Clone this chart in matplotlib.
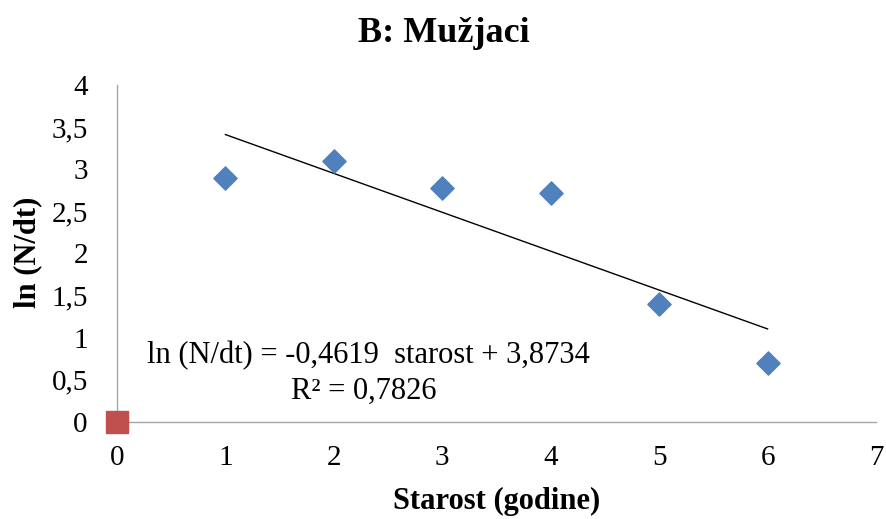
import matplotlib
matplotlib.use('Agg')
import matplotlib.pyplot as plt

# Data
starost = [1, 2, 3, 4, 5, 6]
ln_ndt = [2.89, 3.10, 2.78, 2.72, 1.40, 0.70]
origin_x = [0]
origin_y = [0]

slope = -0.4619
intercept = 3.8734
r2 = 0.7826

x_ticks = [0, 1, 2, 3, 4, 5, 6, 7]
y_ticks = [0, 0.5, 1, 1.5, 2, 2.5, 3, 3.5, 4]
y_tick_labels = ['0', '0,5', '1', '1,5', '2', '2,5', '3', '3,5', '4']

plt.rcParams['font.family'] = ['Liberation Serif', 'DejaVu Serif']

fig = plt.figure(figsize=(8.87, 5.19), dpi=100)
ax = fig.add_axes([0.1319, 0.1875, 0.8557, 0.6487])

trend_x = [starost[0], starost[-1]]
trend_y = [slope * x + intercept for x in trend_x]
ax.plot(trend_x, trend_y, color='black', linewidth=1.0, zorder=2)

ax.scatter(starost, ln_ndt, marker='D', s=140, color='#4F81BD', zorder=3)
ax.scatter(origin_x, origin_y, marker='s', s=240, color='#C0504D', zorder=4, clip_on=False)

ax.set_xlim(0, 7)
ax.set_ylim(0, 4)
ax.set_xticks(x_ticks)
ax.set_yticks(y_ticks)
ax.set_yticklabels(y_tick_labels)
ax.tick_params(length=0, labelsize=21)
ax.tick_params(axis='x', pad=17)
ax.tick_params(axis='y', pad=21)

for side in ['top', 'right']:
    ax.spines[side].set_visible(False)
for side in ['left', 'bottom']:
    ax.spines[side].set_color('#A6A6A6')
    ax.spines[side].set_linewidth(1.0)

# title and axis labels placed in figure coords, as in the reference
fig.text(0.5006, 0.919, 'B: Mužjaci', fontsize=26, fontweight='bold',
         ha='center', va='baseline')
fig.text(0.5603, 0.033, 'Starost (godine)', fontsize=22, fontweight='bold',
         ha='center', va='center')
fig.text(0.031, 0.5135, 'ln (N/dt)', fontsize=22, fontweight='bold',
         ha='center', va='center', rotation=90)

eq = f'ln (N/dt) = {slope:.4f}  starost + {intercept:.4f}'.replace('.', ',')
ax.text(0.277, 0.79, eq, fontsize=22, ha='left', va='center')
ax.text(2.28, 0.365, f'R² = {r2:.4f}'.replace('.', ','), fontsize=22,
        ha='center', va='center')

plt.savefig('out.png', dpi=100)
